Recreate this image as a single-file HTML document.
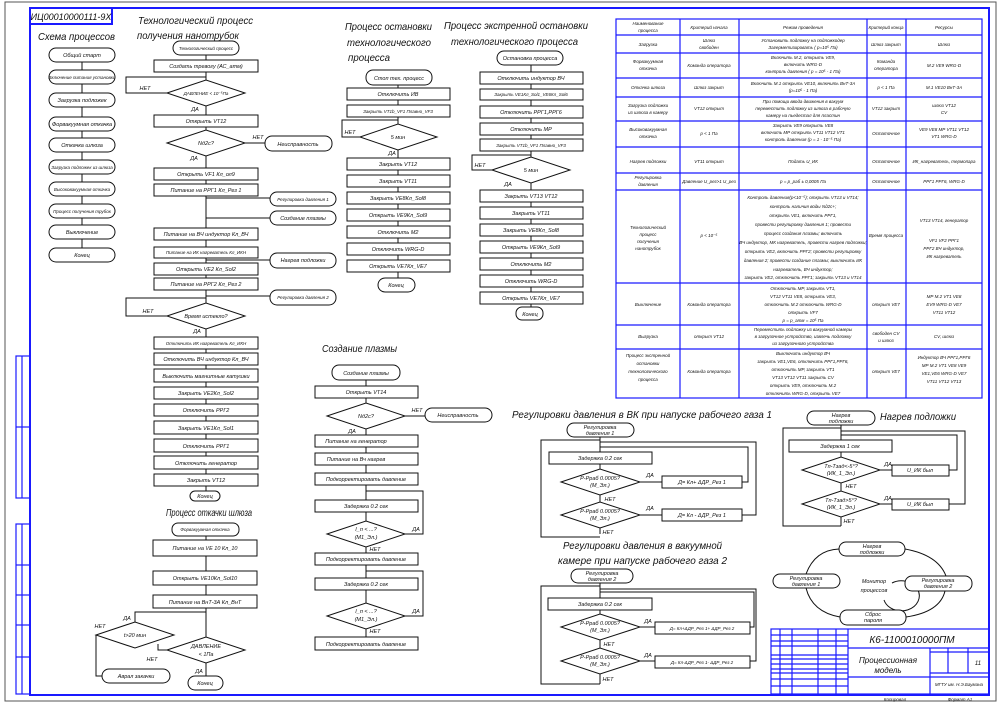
<!DOCTYPE html>
<html><head><meta charset="utf-8"><style>
html,body{margin:0;padding:0;background:#fff;}
svg{display:block}
text{font-family:"Liberation Sans","DejaVu Sans",sans-serif;font-style:italic;font-size:5.5px;text-anchor:middle;fill:#111}
.t{font-size:10.5px;text-anchor:start}
.s{font-size:4.5px}
rect,polygon,path,line,polyline,ellipse{fill:none;stroke:#111;stroke-width:1}
.b{stroke:#1a1aff;stroke-width:2}
.b1{stroke:#1a1aff;stroke-width:1.2}
</style></head><body>
<svg width="1000" height="704" viewBox="0 0 1000 704" xmlns="http://www.w3.org/2000/svg">
<!-- frames -->
<rect x="5" y="2" width="991" height="699" style="stroke:#555"/>
<rect x="30" y="8" width="959" height="687" class="b"/>
<rect x="30" y="8" width="82" height="16" class="b"/>
<text x="71" y="20" style="font-size:9px">ИЦ00010000111-9Х</text>
<!-- left stamp -->
<rect x="16" y="356" width="14" height="142" class="b1"/><line x1="22" y1="356" x2="22" y2="498" class="b1"/><line x1="16" y1="427" x2="30" y2="427" class="b1"/>
<rect x="16" y="524" width="14" height="170" class="b1"/><line x1="22" y1="524" x2="22" y2="694" class="b1"/>
<line x1="16" y1="565" x2="30" y2="565" class="b1"/><line x1="16" y1="595" x2="30" y2="595" class="b1"/><line x1="16" y1="625" x2="30" y2="625" class="b1"/><line x1="16" y1="657" x2="30" y2="657" class="b1"/>

<!-- Схема процессов -->
<text class="t" x="38" y="40" textLength="77" lengthAdjust="spacingAndGlyphs">Схема процессов</text>
<line x1="82" y1="55" x2="82" y2="255"/>
<g>
<rect x="49" y="48" width="66" height="14" rx="7" style="fill:#fff"/><text x="82" y="57">Общий старт</text>
<rect x="49" y="70" width="66" height="14" rx="7" style="fill:#fff"/><text x="82" y="79" class="s">Включение питания установки</text>
<rect x="49" y="93" width="66" height="14" rx="7" style="fill:#fff"/><text x="82" y="102">Загрузка подложек</text>
<rect x="49" y="117" width="66" height="14" rx="7" style="fill:#fff"/><text x="82" y="126">Форвакуумная откачка</text>
<rect x="49" y="138" width="66" height="14" rx="7" style="fill:#fff"/><text x="82" y="147">Откачка шлюза</text>
<rect x="49" y="160" width="66" height="14" rx="7" style="fill:#fff"/><text x="82" y="169" class="s">Загрузка подложек из шлюза</text>
<rect x="49" y="182" width="66" height="14" rx="7" style="fill:#fff"/><text x="82" y="191" class="s">Высоковакуумная откачка</text>
<rect x="49" y="204" width="66" height="14" rx="7" style="fill:#fff"/><text x="82" y="213" class="s">Процесс получения трубок</text>
<rect x="49" y="225" width="66" height="14" rx="7" style="fill:#fff"/><text x="82" y="234">Выключение</text>
<rect x="49" y="248" width="66" height="14" rx="7" style="fill:#fff"/><text x="82" y="257">Конец</text>
</g>

<!-- Тех процесс -->
<text class="t" x="138" y="24" textLength="115" lengthAdjust="spacingAndGlyphs">Технологический процесс</text>
<text class="t" x="137" y="39" textLength="102" lengthAdjust="spacingAndGlyphs">получения нанотрубок</text>
<line x1="206" y1="55" x2="206" y2="491"/>
<polyline points="167,93 126,93 126,77 206,77"/>
<polyline points="167,316 126,316 126,298 206,298"/>
<line x1="245" y1="143" x2="265" y2="143"/>
<line x1="206" y1="198" x2="270" y2="198"/><line x1="206" y1="218" x2="270" y2="218"/>
<line x1="206" y1="260" x2="270" y2="260"/><line x1="206" y1="296" x2="270" y2="296"/>
<g>
<rect x="173" y="41" width="66" height="14" rx="7" style="fill:#fff"/><text x="206" y="50" class="s">Технологический процесс</text>
<rect x="154" y="60" width="104" height="12" style="fill:#fff"/><text x="206" y="68">Создать тревогу (АС_атм)</text>
<polygon points="167,93 206,80 245,93 206,106" style="fill:#fff"/><text x="206" y="95" class="s">ДАВЛЕНИЕ &lt; 10⁻⁵Па</text>
<text x="145" y="90">НЕТ</text><text x="195" y="111">ДА</text>
<rect x="154" y="115" width="104" height="12" style="fill:#fff"/><text x="206" y="123">Открыть VT12</text>
<polygon points="167,143 206,130 245,143 206,156" style="fill:#fff"/><text x="206" y="145">Nд2с?</text>
<text x="258" y="139">НЕТ</text><text x="194" y="160">ДА</text>
<rect x="265" y="136" width="67" height="15" rx="7" style="fill:#fff"/><text x="298" y="146">Неисправность</text>
<rect x="154" y="168" width="104" height="12" style="fill:#fff"/><text x="206" y="176">Открыть VF1 Кл_ол9</text>
<rect x="154" y="184" width="104" height="12" style="fill:#fff"/><text x="206" y="192">Питание на РРГ1 Кл_Рез 1</text>
<rect x="270" y="192" width="66" height="14" rx="7" style="fill:#fff"/><text x="303" y="201" class="s">Регулировка давления 1</text>
<rect x="270" y="211" width="66" height="14" rx="7" style="fill:#fff"/><text x="303" y="220">Создание плазмы</text>
<rect x="154" y="228" width="104" height="12" style="fill:#fff"/><text x="206" y="236">Питание на ВЧ индуктор Кл_ВЧ</text>
<rect x="154" y="247" width="104" height="11" style="fill:#fff"/><text x="206" y="254" class="s">Питание на ИК нагреватель Кл_ИКН</text>
<rect x="270" y="253" width="66" height="15" rx="7" style="fill:#fff"/><text x="303" y="262">Нагрев подложки</text>
<rect x="154" y="263" width="104" height="12" style="fill:#fff"/><text x="206" y="271">Открыть VE2 Кл_Sol2</text>
<rect x="154" y="278" width="104" height="12" style="fill:#fff"/><text x="206" y="286">Питание на РРГ2 Кл_Рез 2</text>
<rect x="270" y="290" width="66" height="15" rx="7" style="fill:#fff"/><text x="303" y="299" class="s">Регулировка давления 2</text>
<polygon points="167,316 206,303 245,316 206,329" style="fill:#fff"/><text x="206" y="318">Время истекло?</text>
<text x="148" y="313">НЕТ</text><text x="197" y="333">ДА</text>
<rect x="154" y="337" width="104" height="12" style="fill:#fff"/><text x="206" y="345" class="s">Отключить ИК нагреватель Кл_ИКН</text>
<rect x="154" y="353" width="104" height="12" style="fill:#fff"/><text x="206" y="361">Отключить ВЧ индуктор Кл_ВЧ</text>
<rect x="154" y="369" width="104" height="13" style="fill:#fff"/><text x="206" y="378">Выключить магнитные катушки</text>
<rect x="154" y="387" width="104" height="12" style="fill:#fff"/><text x="206" y="395">Закрыть VE2Кл_Sol2</text>
<rect x="154" y="404" width="104" height="12" style="fill:#fff"/><text x="206" y="412">Отключить РРГ2</text>
<rect x="154" y="421" width="104" height="13" style="fill:#fff"/><text x="206" y="430">Закрыть VE1Кл_Sol1</text>
<rect x="154" y="439" width="104" height="13" style="fill:#fff"/><text x="206" y="448">Отключить РРГ1</text>
<rect x="154" y="456" width="104" height="13" style="fill:#fff"/><text x="206" y="465">Отключить генератор</text>
<rect x="154" y="474" width="104" height="12" style="fill:#fff"/><text x="206" y="482">Закрыть VT12</text>
<rect x="190" y="491" width="30" height="10" rx="5" style="fill:#fff"/><text x="205" y="498">Конец</text>
</g>

<!-- Откачка шлюза -->
<text class="t" x="166" y="516" textLength="86" lengthAdjust="spacingAndGlyphs">Процесс откачки шлюза</text>
<line x1="206" y1="536" x2="206" y2="676"/>
<polyline points="135,622 135,612 206,612"/>
<polyline points="96,635 96,676 102,676"/>
<polyline points="167,650 158,650 158,644"/>
<rect x="172" y="523" width="67" height="13" rx="6" style="fill:#fff"/><text x="205" y="531" class="s">Форвакуумная откачка</text>
<rect x="153" y="540" width="104" height="16" style="fill:#fff"/><text x="205" y="550">Питание на VE 10 Кл_10</text>
<rect x="153" y="571" width="104" height="14" style="fill:#fff"/><text x="205" y="580">Открыть VE10Кл_Sol10</text>
<rect x="153" y="595" width="104" height="13" style="fill:#fff"/><text x="205" y="604">Питание на ВнТ-3А Кл_ВнТ</text>
<polygon points="96,635 135,622 174,635 135,648" style="fill:#fff"/><text x="135" y="637">t&gt;20 мин</text>
<polygon points="167,650 206,637 245,650 206,663" style="fill:#fff"/><text x="206" y="648">ДАВЛЕНИЕ</text><text x="206" y="656">&lt; 1Па</text>
<text x="127" y="620">ДА</text><text x="100" y="628">НЕТ</text><text x="152" y="661">НЕТ</text><text x="199" y="673">ДА</text>
<rect x="102" y="669" width="68" height="14" rx="7" style="fill:#fff"/><text x="136" y="678">Аврал закачки</text>
<rect x="188" y="676" width="35" height="14" rx="7" style="fill:#fff"/><text x="205" y="685">Конец</text>

<!-- Остановка -->
<text class="t" x="345" y="30" textLength="87" lengthAdjust="spacingAndGlyphs">Процесс остановки</text>
<text class="t" x="347" y="46" textLength="84" lengthAdjust="spacingAndGlyphs">технологического</text>
<text class="t" x="348" y="61" textLength="42" lengthAdjust="spacingAndGlyphs">процесса</text>
<line x1="398" y1="85" x2="398" y2="278"/>
<polyline points="360,137 342,137 342,120 398,120"/>
<rect x="366" y="70" width="66" height="15" rx="7" style="fill:#fff"/><text x="399" y="80">Стоп тех. процесс</text>
<rect x="347" y="88" width="103" height="12" style="fill:#fff"/><text x="398" y="96">Отключить ИВ</text>
<rect x="347" y="105" width="103" height="12" style="fill:#fff"/><text x="398" y="113" class="s">Закрыть VT1b_VF1 Плавно_VF3</text>
<polygon points="360,137 398,124 437,137 398,150" style="fill:#fff"/><text x="398" y="139">5 мин</text>
<text x="350" y="134">НЕТ</text><text x="392" y="155">ДА</text>
<rect x="347" y="158" width="103" height="12" style="fill:#fff"/><text x="398" y="166">Закрыть VT12</text>
<rect x="347" y="175" width="103" height="12" style="fill:#fff"/><text x="398" y="183">Закрыть VT11</text>
<rect x="347" y="192" width="103" height="12" style="fill:#fff"/><text x="398" y="200">Закрыть VE8Кл_Sol8</text>
<rect x="347" y="209" width="103" height="12" style="fill:#fff"/><text x="398" y="217">Открыть VE9Кл_Sol9</text>
<rect x="347" y="226" width="103" height="12" style="fill:#fff"/><text x="398" y="234">Отключить М2</text>
<rect x="347" y="243" width="103" height="12" style="fill:#fff"/><text x="398" y="251">Отключить WRG-D</text>
<rect x="347" y="260" width="103" height="12" style="fill:#fff"/><text x="398" y="268">Открыть VE7Кл_VE7</text>
<rect x="378" y="278" width="37" height="14" rx="7" style="fill:#fff"/><text x="396" y="287">Конец</text>

<!-- Экстренная остановка -->
<text class="t" x="444" y="29" textLength="144" lengthAdjust="spacingAndGlyphs">Процесс экстренной остановки</text>
<text class="t" x="451" y="45" textLength="127" lengthAdjust="spacingAndGlyphs">технологического процесса</text>
<line x1="531" y1="65" x2="531" y2="307"/>
<polyline points="492,170 472,170 472,155 531,155"/>
<rect x="497" y="51" width="66" height="14" rx="7" style="fill:#fff"/><text x="530" y="60">Остановка процесса</text>
<rect x="480" y="72" width="103" height="12" style="fill:#fff"/><text x="531" y="80">Отключить индуктор ВЧ</text>
<rect x="480" y="89" width="103" height="11" style="fill:#fff"/><text x="531" y="96" class="s">Закрыть VE1Кл_Sol1_VE6Кл_Sol6</text>
<rect x="480" y="106" width="103" height="12" style="fill:#fff"/><text x="531" y="114">Отключить РРГ1,РРГ6</text>
<rect x="480" y="123" width="103" height="12" style="fill:#fff"/><text x="531" y="131">Отключить МР</text>
<rect x="480" y="139" width="103" height="12" style="fill:#fff"/><text x="531" y="147" class="s">Закрыть VT1b_VF1 Плавно_VF3</text>
<polygon points="492,170 531,157 570,170 531,183" style="fill:#fff"/><text x="531" y="172">5 мин</text>
<text x="480" y="167">НЕТ</text><text x="508" y="186">ДА</text>
<rect x="480" y="190" width="103" height="12" style="fill:#fff"/><text x="531" y="198">Закрыть VT13 VT12</text>
<rect x="480" y="207" width="103" height="12" style="fill:#fff"/><text x="531" y="215">Закрыть VT11</text>
<rect x="480" y="224" width="103" height="12" style="fill:#fff"/><text x="531" y="232">Закрыть VE8Кл_Sol8</text>
<rect x="480" y="241" width="103" height="12" style="fill:#fff"/><text x="531" y="249">Открыть VE9Кл_Sol9</text>
<rect x="480" y="258" width="103" height="12" style="fill:#fff"/><text x="531" y="266">Отключить М2</text>
<rect x="480" y="275" width="103" height="12" style="fill:#fff"/><text x="531" y="283">Отключить WRG-D</text>
<rect x="480" y="292" width="103" height="12" style="fill:#fff"/><text x="531" y="300">Открыть VE7Кл_VE7</text>
<rect x="516" y="307" width="27" height="13" rx="6" style="fill:#fff"/><text x="530" y="316">Конец</text>

<!-- Table -->
<rect x="616" y="19" width="366" height="379" class="b1"/>
<g>
<line x1="680" y1="19" x2="680" y2="398" class="b1"/><line x1="739" y1="19" x2="739" y2="398" class="b1"/>
<line x1="867" y1="19" x2="867" y2="398" class="b1"/><line x1="906" y1="19" x2="906" y2="398" class="b1"/>
<line x1="616" y1="35" x2="982" y2="35" class="b1"/><line x1="616" y1="53" x2="982" y2="53" class="b1"/>
<line x1="616" y1="78" x2="982" y2="78" class="b1"/><line x1="616" y1="97" x2="982" y2="97" class="b1"/>
<line x1="616" y1="121" x2="982" y2="121" class="b1"/><line x1="616" y1="147" x2="982" y2="147" class="b1"/>
<line x1="616" y1="173" x2="982" y2="173" class="b1"/><line x1="616" y1="190" x2="982" y2="190" class="b1"/>
<line x1="616" y1="283" x2="982" y2="283" class="b1"/><line x1="616" y1="325" x2="982" y2="325" class="b1"/>
<line x1="616" y1="349" x2="982" y2="349" class="b1"/>
</g>
<g>
<text x="648" y="25" class="s">Наименование</text><text x="648" y="32" class="s">процесса</text>
<text x="709" y="29" class="s">Критерий начала</text><text x="803" y="29" class="s">Режим проведения</text>
<text x="886" y="29" class="s">Критерий конца</text><text x="944" y="29" class="s">Ресурсы</text>
<text x="648" y="46" class="s">Загрузка</text><text x="709" y="42" class="s">Шлюз</text><text x="709" y="49" class="s">свободен</text>
<text x="803" y="42" class="s">Установить подложку на подложкодер</text><text x="803" y="49" class="s">Загерметизировать ( р=10⁵ Па)</text>
<text x="886" y="46" class="s">Шлюз закрыт</text><text x="944" y="46" class="s">Шлюз</text>
<text x="648" y="63" class="s">Форвакуумная</text><text x="648" y="70" class="s">откачка</text><text x="709" y="67" class="s">Команда оператора</text>
<text x="803" y="59" class="s">Включить М.2, открыть VE9,</text><text x="803" y="66" class="s">включить WRG-D</text><text x="803" y="73" class="s">контроль давления ( р = 10⁵ - 1 Па)</text>
<text x="886" y="63" class="s">Команда</text><text x="886" y="70" class="s">оператора</text><text x="944" y="67" class="s">М.2 VE9 WRG-D</text>
<text x="648" y="89" class="s">Откачка шлюза</text><text x="709" y="89" class="s">Шлюз закрыт</text>
<text x="803" y="85" class="s">Включить М.1 открыть VE10, включить ВнТ-3А</text><text x="803" y="92" class="s">(р=10⁵ - 1 Па)</text>
<text x="886" y="89" class="s">р &lt; 1 Па</text><text x="944" y="89" class="s">М.1 VE10 ВнТ-3А</text>
<text x="648" y="107" class="s">Загрузка подложки</text><text x="648" y="114" class="s">из шлюза в камеру</text><text x="709" y="110" class="s">VT12 открыт</text>
<text x="803" y="103" class="s">При помощи ввода движения в вакуум</text><text x="803" y="110" class="s">переместить подложку из шлюза в рабочую</text><text x="803" y="117" class="s">камеру на пьедестал для пластин</text>
<text x="886" y="110" class="s">VT12 закрыт</text><text x="944" y="107" class="s">шлюз VT12</text><text x="944" y="114" class="s">CV</text>
<text x="648" y="131" class="s">Высоковакуумная</text><text x="648" y="138" class="s">откачка</text><text x="709" y="135" class="s">р &lt; 1 Па</text>
<text x="803" y="127" class="s">Закрыть VE9 открыть VE8</text><text x="803" y="134" class="s">включить МР открыть VT11 VT12 VT1</text><text x="803" y="141" class="s">контроль давления (р = 1 - 10⁻⁵ Па)</text>
<text x="886" y="135" class="s">Остаточное</text><text x="944" y="131" class="s">VE9 VE8 МР VT11 VT12</text><text x="944" y="138" class="s">VT1 WRG-D</text>
<text x="648" y="163" class="s">Нагрев подложки</text><text x="709" y="163" class="s">VT11 открыт</text><text x="803" y="163" class="s">Подать U_ИК</text>
<text x="886" y="163" class="s">Остаточное</text><text x="944" y="163" class="s">ИК_нагреватель, термопара</text>
<text x="648" y="179" class="s">Регулировка</text><text x="648" y="186" class="s">давления</text><text x="709" y="183" class="s">Давление U_рез&gt;1 U_рез</text>
<text x="803" y="183" class="s">р = р_раб ± 0,0005 Па</text><text x="886" y="183" class="s">Остаточное</text><text x="944" y="183" class="s">РРГ1 РРГ6, WRG-D</text>
<text x="648" y="229" class="s">Технологический</text><text x="648" y="236" class="s">процесс</text><text x="648" y="243" class="s">получения</text><text x="648" y="250" class="s">нанотрубок</text>
<text x="709" y="237" class="s">р &lt; 10⁻⁵</text>
<text x="803" y="199" class="s">Контроль давления(р&lt;10⁻⁵); открыть VT13 и VT14;</text>
<text x="803" y="208" class="s">контроль наличия воды Nд2с+;</text><text x="803" y="217" class="s">открыть VE1, включить РРГ1,</text>
<text x="803" y="226" class="s">провести регулировку давления 1; провести</text><text x="803" y="235" class="s">процесс создания плазмы; включить</text>
<text x="803" y="244" class="s">ВЧ индуктор, МК нагреватель, провести нагрев подложки;</text><text x="803" y="253" class="s">открыть VE2, включить РРГ2; провести регулировку</text>
<text x="803" y="262" class="s">давления 2; провести создание плазмы; выключить ИК</text><text x="803" y="271" class="s">нагреватель, ВЧ индуктор;</text>
<text x="803" y="279" class="s">закрыть VE2, отключить РРГ1; закрыть VT13 и VT14</text>
<text x="886" y="237" class="s">Время процесса</text>
<text x="944" y="222" class="s">VT13 VT14, генератор</text><text x="944" y="242" class="s">VF1 VF2 РРГ1</text><text x="944" y="250" class="s">РРГ2 ВЧ индуктор,</text><text x="944" y="258" class="s">ИК нагреватель</text>
<text x="648" y="306" class="s">Выключение</text><text x="709" y="306" class="s">Команда оператора</text>
<text x="803" y="290" class="s">Отключить МР, закрыть VT1,</text><text x="803" y="298" class="s">VT12 VT11 VE8, открыть VE3,</text><text x="803" y="306" class="s">отключить М.2 отключить WRG-D</text><text x="803" y="314" class="s">открыть VF7</text><text x="803" y="322" class="s">р = р_атм = 10⁵ Па</text>
<text x="886" y="306" class="s">открыт VE7</text><text x="944" y="298" class="s">МР М.2 VT1 VE8</text><text x="944" y="306" class="s">EV9 WRG-D VE7</text><text x="944" y="314" class="s">VT11 VT12</text>
<text x="648" y="338" class="s">Выгрузка</text><text x="709" y="338" class="s">открыт VT12</text>
<text x="803" y="331" class="s">Переместить подложку из вакуумной камеры</text><text x="803" y="338" class="s">в загрузочное устройство, извлечь подложку</text><text x="803" y="345" class="s">из загрузочного устройства</text>
<text x="886" y="335" class="s">свободен CV</text><text x="886" y="342" class="s">и шлюз</text><text x="944" y="338" class="s">CV, шлюз</text>
<text x="648" y="357" class="s">Процесс экстренной</text><text x="648" y="365" class="s">остановки</text><text x="648" y="373" class="s">технологического</text><text x="648" y="381" class="s">процесса</text>
<text x="709" y="373" class="s">Команда оператора</text>
<text x="803" y="355" class="s">Выключить индуктор ВЧ</text><text x="803" y="363" class="s">закрыть VE1,VE6, отключить РРГ1,РРГ6,</text><text x="803" y="371" class="s">отключить МР, закрыть VT1</text><text x="803" y="379" class="s">VT13 VT12 VT11 закрыть CV</text><text x="803" y="387" class="s">открыть VE9, отключить М.2</text><text x="803" y="395" class="s">отключить WRG-D, открыть VE7</text>
<text x="886" y="373" class="s">открыт VE7</text><text x="944" y="359" class="s">Индуктор ВЧ РРГ1,РРГ6</text><text x="944" y="367" class="s">МР М.2 VT1 VE8 VE9</text><text x="944" y="375" class="s">VE1,VE6 WRG-D VE7</text><text x="944" y="383" class="s">VT11 VT12 VT13</text>
</g>

<!-- Создание плазмы -->
<text class="t" x="322" y="352" textLength="75" lengthAdjust="spacingAndGlyphs">Создание плазмы</text>
<line x1="366" y1="380" x2="366" y2="637"/>
<line x1="405" y1="416" x2="425" y2="416"/>
<polyline points="366,491 423,491 423,534 405,534"/>
<polyline points="366,571 423,571 423,616 405,616"/>
<rect x="332" y="365" width="68" height="15" rx="7" style="fill:#fff"/><text x="366" y="375">Создание плазмы</text>
<rect x="315" y="386" width="103" height="12" style="fill:#fff"/><text x="366" y="394">Открыть VT14</text>
<polygon points="327,416 366,403 405,416 366,429" style="fill:#fff"/><text x="366" y="418">Nд2с?</text>
<text x="417" y="412">НЕТ</text><text x="352" y="433">ДА</text>
<rect x="425" y="408" width="67" height="14" rx="7" style="fill:#fff"/><text x="458" y="417">Неисправность</text>
<rect x="315" y="435" width="103" height="12" style="fill:#fff"/><text x="356" y="443">Питание на генератор</text>
<rect x="315" y="453" width="103" height="12" style="fill:#fff"/><text x="356" y="461">Питание на Вч нагрев</text>
<rect x="315" y="473" width="103" height="12" style="fill:#fff"/><text x="366" y="481">Подкорректировать давление</text>
<rect x="315" y="500" width="103" height="12" style="fill:#fff"/><text x="366" y="508">Задержка 0.2 сек</text>
<polygon points="327,534 366,521 405,534 366,547" style="fill:#fff"/><text x="366" y="531">I_п &lt; ...?</text><text x="366" y="539">(М1_Эл.)</text>
<text x="416" y="531">ДА</text><text x="375" y="551">НЕТ</text>
<rect x="315" y="553" width="103" height="12" style="fill:#fff"/><text x="366" y="561">Подкорректировать давление</text>
<rect x="315" y="578" width="103" height="12" style="fill:#fff"/><text x="366" y="586">Задержка 0.2 сек</text>
<polygon points="327,616 366,603 405,616 366,629" style="fill:#fff"/><text x="366" y="613">I_п &lt; ...?</text><text x="366" y="621">(М1_Эл.)</text>
<text x="416" y="613">ДА</text><text x="375" y="633">НЕТ</text>
<rect x="315" y="637" width="103" height="13" style="fill:#fff"/><text x="366" y="646">Подкорректировать давление</text>

<!-- Регулировка 1 -->
<text class="t" x="512" y="418" textLength="260" lengthAdjust="spacingAndGlyphs">Регулировки давления в ВК при напуске рабочего газа 1</text>
<line x1="600" y1="437" x2="600" y2="534"/>
<polyline points="600,440 541,440 541,537 600,537"/>
<polyline points="742,482 748,482 748,447 600,447"/>
<polyline points="742,515 756,515 756,442 600,442"/>
<line x1="640" y1="482" x2="662" y2="482"/><line x1="640" y1="515" x2="662" y2="515"/>
<rect x="567" y="423" width="67" height="14" rx="7" style="fill:#fff"/><text x="600" y="429">Регулировка</text><text x="600" y="435">давления 1</text>
<rect x="549" y="452" width="103" height="12" style="fill:#fff"/><text x="600" y="460">Задержка 0.2 сек</text>
<polygon points="561,482 600,469 640,482 600,495" style="fill:#fff"/><text x="600" y="480">P-Pраб 0.0005?</text><text x="600" y="487">(М_Эл.)</text>
<rect x="662" y="476" width="80" height="12" style="fill:#fff"/><text x="702" y="484">Д= Кл+ ΔДР_Рез 1</text>
<polygon points="561,515 600,502 640,515 600,528" style="fill:#fff"/><text x="600" y="513">P-Pраб 0.0005?</text><text x="600" y="520">(М_Эл.)</text>
<rect x="662" y="509" width="80" height="12" style="fill:#fff"/><text x="702" y="517">Д= Кл - ΔДР_Рез 1</text>
<text x="650" y="477">ДА</text><text x="650" y="510">ДА</text><text x="610" y="501">НЕТ</text><text x="608" y="534">НЕТ</text>

<!-- Регулировка 2 -->
<text class="t" x="563" y="549" textLength="159" lengthAdjust="spacingAndGlyphs">Регулировки давления в вакуумной</text>
<text class="t" x="558" y="564" textLength="169" lengthAdjust="spacingAndGlyphs">камере при напуске рабочего газа 2</text>
<line x1="600" y1="583" x2="600" y2="684"/>
<polyline points="600,586 541,586 541,684 600,684"/>
<polyline points="750,627 754,627 754,592 600,592"/>
<polyline points="750,661 756,661 756,589 600,589"/>
<line x1="640" y1="627" x2="655" y2="627"/><line x1="640" y1="661" x2="655" y2="661"/>
<rect x="571" y="569" width="62" height="14" rx="7" style="fill:#fff"/><text x="602" y="575">Регулировка</text><text x="602" y="581">давления 2</text>
<rect x="548" y="598" width="104" height="12" style="fill:#fff"/><text x="600" y="606">Задержка 0.2 сек</text>
<polygon points="561,627 600,614 640,627 600,640" style="fill:#fff"/><text x="600" y="625">P-Pраб 0.0005?</text><text x="600" y="632">(М_Эл.)</text>
<rect x="655" y="622" width="95" height="12" style="fill:#fff"/><text x="702" y="630" class="s">Д= Кл+ΔДР_Рез 1+ ΔДР_Рез 2</text>
<polygon points="561,661 600,648 640,661 600,674" style="fill:#fff"/><text x="600" y="659">P-Pраб 0.0005?</text><text x="600" y="666">(М_Эл.)</text>
<rect x="655" y="656" width="95" height="12" style="fill:#fff"/><text x="702" y="664" class="s">Д= Кл-ΔДР_Рез 1- ΔДР_Рез 2</text>
<text x="648" y="623">ДА</text><text x="648" y="657">ДА</text><text x="609" y="646">НЕТ</text><text x="608" y="681">НЕТ</text>

<!-- Нагрев подложки -->
<text class="t" x="880" y="420" textLength="76" lengthAdjust="spacingAndGlyphs">Нагрев подложки</text>
<line x1="841" y1="425" x2="841" y2="526"/>
<polyline points="841,428 783,428 783,526 841,526"/>
<polyline points="949,470 957,470 957,435 841,435"/>
<polyline points="949,504 965,504 965,431 841,431"/>
<line x1="880" y1="470" x2="892" y2="470"/><line x1="880" y1="504" x2="892" y2="504"/>
<rect x="807" y="411" width="68" height="14" rx="7" style="fill:#fff"/><text x="841" y="417">Нагрев</text><text x="841" y="423">подложки</text>
<rect x="789" y="440" width="103" height="12" style="fill:#fff"/><text x="840" y="448">Задержка 1 сек</text>
<polygon points="802,470 841,457 880,470 841,483" style="fill:#fff"/><text x="841" y="468">Tп-Tзад&lt;-5°?</text><text x="841" y="475">(ИК_1_Эл.)</text>
<rect x="892" y="465" width="57" height="11" style="fill:#fff"/><text x="920" y="472">U_ИК был</text>
<polygon points="802,504 841,491 880,504 841,517" style="fill:#fff"/><text x="841" y="502">Tп-Tзад&gt;5°?</text><text x="841" y="509">(ИК_1_Эл.)</text>
<rect x="892" y="499" width="57" height="11" style="fill:#fff"/><text x="920" y="506">U_ИК был</text>
<text x="888" y="466">ДА</text><text x="888" y="500">ДА</text><text x="851" y="488">НЕТ</text><text x="849" y="523">НЕТ</text>

<!-- cycle -->
<path d="M806,574 Q815,550 839,549"/>
<path d="M905,549 Q938,555 946,576"/>
<path d="M945,591 Q940,612 906,617"/>
<path d="M840,617 Q812,612 806,588"/>
<path d="M892,583 A18,15 0 1,1 884,600"/>
<rect x="839" y="542" width="66" height="14" rx="7" style="fill:#fff"/><text x="872" y="548">Нагрев</text><text x="872" y="554">подложки</text>
<rect x="773" y="574" width="67" height="14" rx="7" style="fill:#fff"/><text x="806" y="580">Регулировка</text><text x="806" y="586">давления 1</text>
<rect x="905" y="576" width="67" height="15" rx="7" style="fill:#fff"/><text x="938" y="582">Регулировка</text><text x="938" y="588">давления 2</text>
<rect x="840" y="610" width="66" height="15" rx="7" style="fill:#fff"/><text x="873" y="616">Сброс</text><text x="873" y="622">пароля</text>
<text x="874" y="583">Монитор</text><text x="874" y="592">процессов</text>

<!-- Title block -->
<rect x="771" y="629" width="218" height="65" class="b1"/>
<g>
<line x1="780" y1="629" x2="780" y2="694" class="b1"/><line x1="792" y1="629" x2="792" y2="694" class="b1"/>
<line x1="818" y1="629" x2="818" y2="694" class="b1"/><line x1="836" y1="629" x2="836" y2="694" class="b1"/>
<line x1="848" y1="629" x2="848" y2="694" class="b1"/>
<line x1="771" y1="635" x2="848" y2="635" class="b1"/><line x1="771" y1="641" x2="848" y2="641" class="b1"/>
<line x1="771" y1="646" x2="848" y2="646" class="b1"/><line x1="771" y1="655" x2="848" y2="655" class="b1"/>
<line x1="771" y1="659" x2="848" y2="659" class="b1"/><line x1="771" y1="664" x2="848" y2="664" class="b1"/>
<line x1="771" y1="669" x2="848" y2="669" class="b1"/><line x1="771" y1="673" x2="848" y2="673" class="b1"/>
<line x1="771" y1="679" x2="848" y2="679" class="b1"/><line x1="771" y1="686" x2="848" y2="686" class="b1"/>
<line x1="848" y1="648" x2="989" y2="648" class="b1"/><line x1="848" y1="677" x2="989" y2="677" class="b1"/>
<line x1="930" y1="648" x2="930" y2="694" class="b1"/>
<line x1="930" y1="652" x2="989" y2="652" class="b1"/><line x1="930" y1="673" x2="989" y2="673" class="b1"/>
<line x1="948" y1="648" x2="948" y2="673" class="b1"/><line x1="968" y1="648" x2="968" y2="673" class="b1"/>
</g>
<text x="912" y="643" style="font-size:10px">К6-1100010000ПМ</text>
<text x="888" y="663" style="font-size:8px">Процессионная</text><text x="888" y="673" style="font-size:8px">модель</text>
<text x="978" y="665" style="font-size:6px">11</text>
<text x="959" y="686" class="s">МГТУ им. Н.Э.Баумана</text>
<text x="895" y="701" class="s">Копировал</text><text x="960" y="701" class="s">Формат  А1</text>
</svg>
</body></html>
